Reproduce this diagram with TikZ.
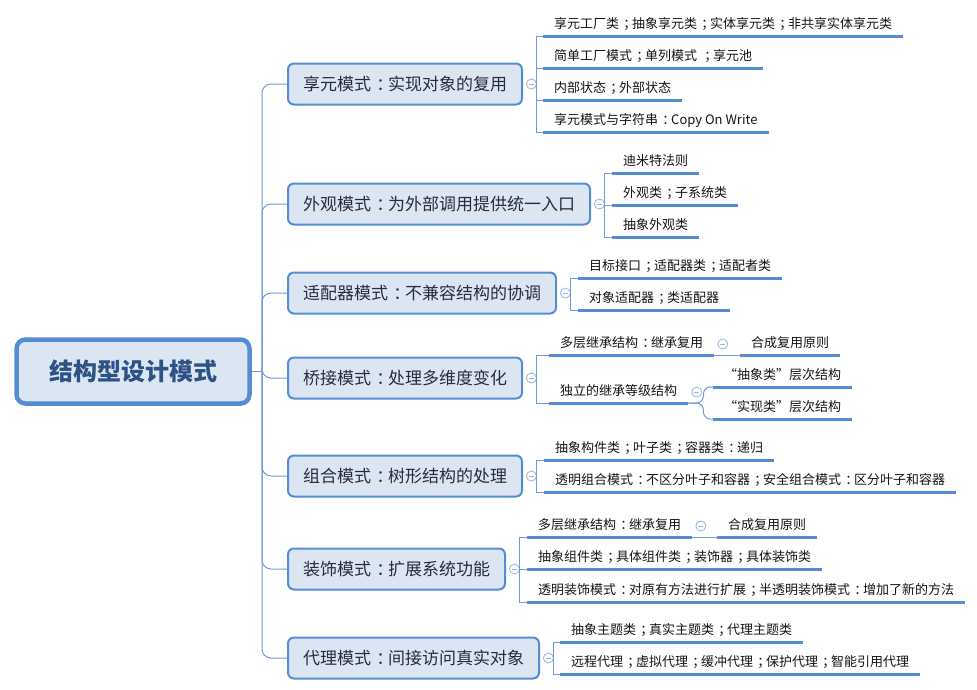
\documentclass[tikz,border=0pt]{standalone}
\usepackage{fontspec}
\setmainfont{Noto Sans CJK SC}
\usetikzlibrary{positioning}
\definecolor{mapblue}{RGB}{84,141,212}
\definecolor{mapfill}{RGB}{220,230,242}
\definecolor{linkblue}{RGB}{112,154,215}
\definecolor{foldblue}{RGB}{150,180,225}
\definecolor{rootink}{RGB}{46,82,134}
\definecolor{topicink}{RGB}{40,44,56}
\definecolor{leafink}{RGB}{20,20,20}
% full-width punctuation set in the middle of its em box
\newcommand\fsemi{\makebox[1em][l]{\hspace{.32em}；}}
\newcommand\fcolon{\makebox[1em][l]{\hspace{.32em}：}}

\begin{document}
\begin{tikzpicture}[x=1pt, y=-1pt,
  root/.style={draw=mapblue, line width=4.5pt, fill=mapfill, rounded corners=9pt, minimum width=233pt, minimum height=64pt, font=\fontsize{24}{28}\selectfont\bfseries, text=rootink},
  branch/.style={draw=mapblue, line width=2pt, fill=mapfill, rounded corners=6pt, anchor=west, inner xsep=15pt, minimum height=41pt, font=\fontsize{17}{20}\selectfont, text=topicink},
  topic/.style={anchor=south west, inner xsep=11pt, inner ysep=4pt, text height=10pt, text depth=3.5pt, font=\fontsize{13}{15}\selectfont, text=leafink},
  fold/.style={circle, draw=foldblue, fill=white, line width=0.8pt, inner sep=0pt, minimum size=10pt,
    path picture={\draw[foldblue, line width=0.8pt] ([xshift=-2.6pt]path picture bounding box.center) -- ([xshift=2.6pt]path picture bounding box.center);}},
  conn/.style={draw=linkblue, line width=1pt},
  uline/.style={draw=mapblue, line width=3pt}
]
\useasboundingbox (0,0) rectangle (977,689);

% centre
\node[root] (root) at (133,371.5) {结构型设计模式};
\coordinate (hub) at (262,371.5);

% main branches
\node[branch] (xy)  at (287,84)  {享元模式\fcolon 实现对象的复用};
\node[branch] (wg)  at (287,204) {外观模式\fcolon 为外部调用提供统一入口};
\node[branch] (spq) at (287,293) {适配器模式\fcolon 不兼容结构的协调};
\node[branch] (qj)  at (287,378) {桥接模式\fcolon 处理多维度变化};
\node[branch] (zh)  at (287,476) {组合模式\fcolon 树形结构的处理};
\node[branch] (zs)  at (287,569) {装饰模式\fcolon 扩展系统功能};
\node[branch] (dl)  at (287,658) {代理模式\fcolon 间接访问真实对象};

\node[fold, right=3pt of xy]  (xyf)  {};
\node[fold, right=3pt of wg]  (wgf)  {};
\node[fold, right=3pt of spq] (spqf) {};
\node[fold, right=3pt of qj]  (qjf)  {};
\node[fold, right=3pt of zh]  (zhf)  {};
\node[fold, right=3pt of zs]  (zsf)  {};
\node[fold, right=3pt of dl]  (dlf)  {};

% flyweight
\node[topic] (xy1) at (543,36)  {享元工厂类\fsemi 抽象享元类\fsemi 实体享元类\fsemi 非共享实体享元类};
\node[topic] (xy2) at (543,68)  {简单工厂模式\fsemi 单列模式 \fsemi 享元池};
\node[topic] (xy3) at (543,100) {内部状态\fsemi 外部状态};
\node[topic] (xy4) at (543,132) {享元模式与字符串\fcolon Copy On Write};

% facade
\node[topic] (wg1) at (612,173) {迪米特法则};
\node[topic] (wg2) at (612,205) {外观类\fsemi 子系统类};
\node[topic] (wg3) at (612,237) {抽象外观类};

% adapter
\node[topic] (spq1) at (578,278) {目标接口\fsemi 适配器类\fsemi 适配者类};
\node[topic] (spq2) at (578,310) {对象适配器\fsemi 类适配器};

% bridge
\node[topic] (qj1) at (549,355) {多层继承结构\fcolon 继承复用};
\node[topic] (qj2) at (549,403) {独立的继承等级结构};
\node[fold, right=3pt of qj1] (qj1f) {};
\node[fold, right=3pt of qj2] (qj2f) {};
\node[topic] (qj1a) at (740,355) {合成复用原则};
\node[topic] (qj2a) at (713,387) {“抽象类”层次结构};
\node[topic] (qj2b) at (713,419) {“实现类”层次结构};

% composite
\node[topic] (zh1) at (544,460) {抽象构件类\fsemi 叶子类\fsemi 容器类\fcolon 递归};
\node[topic] (zh2) at (544,492) {透明组合模式\fcolon 不区分叶子和容器\fsemi 安全组合模式\fcolon 区分叶子和容器};

% decorator
\node[topic] (zs1) at (527,537) {多层继承结构\fcolon 继承复用};
\node[fold, right=3pt of zs1] (zs1f) {};
\node[topic] (zs1a) at (717,537) {合成复用原则};
\node[topic] (zs2) at (527,569) {抽象组件类\fsemi 具体组件类\fsemi 装饰器\fsemi 具体装饰类};
\node[topic] (zs3) at (527,602) {透明装饰模式\fcolon 对原有方法进行扩展\fsemi 半透明装饰模式\fcolon 增加了新的方法};

% proxy
\node[topic] (dl1) at (560,642) {抽象主题类\fsemi 真实主题类\fsemi 代理主题类};
\node[topic] (dl2) at (560,674) {远程代理\fsemi 虚拟代理\fsemi 缓冲代理\fsemi 保护代理\fsemi 智能引用代理};

% connectors
\draw[conn] (root.east) -- (hub);
\foreach \b in {xy,wg,spq,qj,zh,zs,dl}
  \draw[conn, rounded corners=9pt] (hub) |- (\b.west);
\foreach \f/\t in {xyf/xy1,xyf/xy2,xyf/xy3,xyf/xy4,wgf/wg1,wgf/wg2,wgf/wg3,spqf/spq1,spqf/spq2,
    qjf/qj1,qjf/qj2,zhf/zh1,zhf/zh2,zsf/zs1,zsf/zs2,zsf/zs3,dlf/dl1,dlf/dl2}
  \draw[conn] (\f.east) |- (\t.south west);
\draw[conn] (qj1.south east) -- (qj1a.south west);
\draw[conn] (zs1.south east) -- (zs1a.south west);
\draw[conn, rounded corners=7pt] (qj2.south east) -- ++(15,0) |- (qj2a.south west);
\draw[conn, rounded corners=7pt] (qj2.south east) -- ++(15,0) |- (qj2b.south west);

% underlines
\foreach \n in {xy1,xy2,xy3,xy4,wg1,wg2,wg3,spq1,spq2,qj1,qj2,qj1a,qj2a,qj2b,zh1,zh2,zs1,zs1a,zs2,zs3,dl1,dl2}
  \draw[uline] (\n.south west) -- (\n.south east);
\end{tikzpicture}
\end{document}
